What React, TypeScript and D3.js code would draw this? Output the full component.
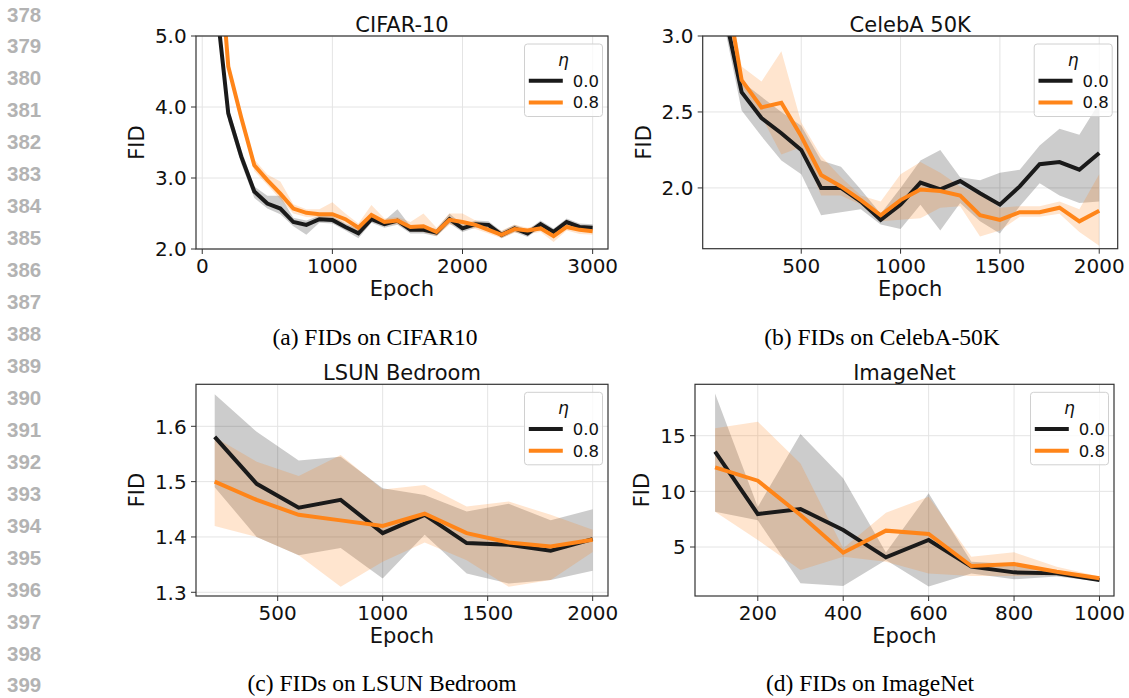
import React from "react";
import * as d3 from "d3";

// ---------- line numbers (left margin) ----------
const lineNumbers = [378, 379, 380, 381, 382, 383, 384, 385, 386, 387, 388, 389, 390, 391, 392, 393, 394, 395, 396, 397, 398, 399];

// ---------- legend ----------
const legendTitle = "η";
const legendLabels = ["0.0", "0.8"];

// ---------- CIFAR-10 ----------
const cifarEpochs = [100, 200, 300, 400, 500, 600, 700, 800, 900, 1000, 1100, 1200, 1300, 1400, 1500, 1600, 1700, 1800, 1900, 2000, 2100, 2200, 2300, 2400, 2500, 2600, 2700, 2800, 2900, 3000];
const cifarEta0 = [5.6, 3.91, 3.3, 2.81, 2.64, 2.57, 2.38, 2.34, 2.42, 2.41, 2.31, 2.22, 2.42, 2.35, 2.4, 2.27, 2.27, 2.23, 2.42, 2.29, 2.35, 2.34, 2.2, 2.29, 2.22, 2.35, 2.24, 2.38, 2.31, 2.3];
const cifarEta0Lo = [5.5, 3.8, 3.2, 2.72, 2.57, 2.49, 2.32, 2.2, 2.37, 2.36, 2.26, 2.15, 2.37, 2.3, 2.34, 2.22, 2.22, 2.18, 2.36, 2.24, 2.3, 2.29, 2.15, 2.24, 2.17, 2.3, 2.19, 2.33, 2.26, 2.25];
const cifarEta0Hi = [5.7, 4.0, 3.4, 2.88, 2.75, 2.75, 2.44, 2.4, 2.47, 2.46, 2.36, 2.28, 2.48, 2.4, 2.56, 2.32, 2.32, 2.28, 2.5, 2.34, 2.4, 2.39, 2.25, 2.34, 2.27, 2.4, 2.29, 2.43, 2.36, 2.35];
const cifarEta8 = [6.9, 4.57, 3.85, 3.18, 2.97, 2.78, 2.57, 2.51, 2.49, 2.49, 2.42, 2.3, 2.48, 2.38, 2.4, 2.31, 2.32, 2.24, 2.41, 2.38, 2.34, 2.27, 2.2, 2.28, 2.26, 2.29, 2.18, 2.31, 2.27, 2.25];
const cifarEta8Lo = [6.8, 4.5, 3.78, 3.1, 2.9, 2.7, 2.5, 2.45, 2.44, 2.4, 2.36, 2.24, 2.4, 2.33, 2.35, 2.25, 2.24, 2.18, 2.34, 2.32, 2.28, 2.22, 2.15, 2.23, 2.21, 2.24, 2.1, 2.26, 2.21, 2.2];
const cifarEta8Hi = [7.0, 4.65, 3.92, 3.26, 3.05, 2.95, 2.63, 2.56, 2.56, 2.66, 2.5, 2.36, 2.62, 2.43, 2.45, 2.38, 2.5, 2.3, 2.5, 2.5, 2.4, 2.33, 2.26, 2.34, 2.3, 2.34, 2.26, 2.36, 2.32, 2.3];
const cifarXTicks = [0, 1000, 2000, 3000];
const cifarYTicks = [2.0, 3.0, 4.0, 5.0];

// ---------- CelebA 50K ----------
const celebaEpochs = [100, 200, 300, 400, 500, 600, 700, 800, 900, 1000, 1100, 1200, 1300, 1400, 1500, 1600, 1700, 1800, 1900, 2000];
const celebaEta0 = [3.24, 2.63, 2.46, 2.36, 2.25, 2.0, 2.0, 1.91, 1.79, 1.89, 2.035, 1.99, 2.045, 1.965, 1.89, 2.01, 2.156, 2.17, 2.12, 2.23];
const celebaEta0Lo = [3.15, 2.51, 2.34, 2.18, 2.09, 1.82, 1.84, 1.86, 1.76, 1.73, 1.89, 1.72, 1.9, 1.78, 1.7, 1.88, 2.03, 1.95, 1.9, 1.91];
const celebaEta0Hi = [3.35, 2.7, 2.6, 2.5, 2.41, 2.18, 2.14, 1.99, 1.83, 2.0, 2.18, 2.25, 2.07, 2.05, 2.1, 2.12, 2.28, 2.39, 2.35, 2.56];
const celebaEta8 = [3.47, 2.71, 2.53, 2.56, 2.34, 2.085, 2.01, 1.92, 1.82, 1.92, 1.99, 1.98, 1.95, 1.82, 1.79, 1.84, 1.84, 1.87, 1.78, 1.85];
const celebaEta8Lo = [3.4, 2.67, 2.47, 2.22, 2.27, 1.95, 1.95, 1.89, 1.78, 1.79, 1.8, 1.87, 1.88, 1.68, 1.72, 1.81, 1.81, 1.83, 1.71, 1.62];
const celebaEta8Hi = [3.55, 2.8, 2.7, 2.9, 2.43, 2.21, 2.07, 1.95, 1.91, 2.09, 2.17, 2.1, 2.01, 1.96, 1.87, 1.88, 1.88, 1.91, 1.86, 2.09];
const celebaXTicks = [500, 1000, 1500, 2000];
const celebaYTicks = [2.0, 2.5, 3.0];

// ---------- LSUN Bedroom ----------
const lsunEpochs = [200, 400, 600, 800, 1000, 1200, 1400, 1600, 1800, 2000];
const lsunEta0 = [1.581, 1.496, 1.453, 1.467, 1.407, 1.44, 1.389, 1.386, 1.375, 1.396];
const lsunEta0Lo = [1.49, 1.4, 1.367, 1.38, 1.325, 1.404, 1.334, 1.316, 1.322, 1.339];
const lsunEta0Hi = [1.658, 1.59, 1.538, 1.545, 1.488, 1.476, 1.446, 1.46, 1.43, 1.45];
const lsunEta8 = [1.5, 1.467, 1.44, 1.43, 1.42, 1.442, 1.407, 1.39, 1.383, 1.395];
const lsunEta8Lo = [1.42, 1.4, 1.367, 1.31, 1.355, 1.39, 1.358, 1.31, 1.322, 1.373];
const lsunEta8Hi = [1.58, 1.536, 1.51, 1.548, 1.486, 1.494, 1.455, 1.464, 1.44, 1.413];
const lsunXTicks = [500, 1000, 1500, 2000];
const lsunYTicks = [1.3, 1.4, 1.5, 1.6];

// ---------- ImageNet ----------
const imagenetEpochs = [100, 200, 300, 400, 500, 600, 700, 800, 900, 1000];
const imagenetEta0 = [13.56, 7.96, 8.41, 6.53, 4.07, 5.63, 3.23, 2.72, 2.63, 2.04];
const imagenetEta0Lo = [8.17, 7.4, 1.74, 1.5, 3.83, 1.44, 2.63, 2.1, 2.34, 1.89];
const imagenetEta0Hi = [18.8, 8.6, 15.15, 11.17, 4.5, 9.82, 3.68, 3.47, 2.93, 2.19];
const imagenetEta8 = [12.16, 10.96, 7.87, 4.49, 6.47, 6.17, 3.29, 3.47, 2.78, 2.19];
const imagenetEta8Lo = [8.17, 5.63, 2.93, 4.13, 3.68, 2.63, 2.39, 2.39, 2.48, 1.98];
const imagenetEta8Hi = [15.66, 16.26, 12.5, 4.88, 8.08, 9.52, 4.13, 4.52, 3.23, 2.34];
const imagenetXTicks = [200, 400, 600, 800, 1000];
const imagenetYTicks = [5, 10, 15];

// ---------- styling ----------
const BLACK = "#1a1a1a";
const ORANGE = "#ff8519";
const SANS = "'DejaVu Sans', sans-serif";

type Series = { mean: number[]; lo: number[]; hi: number[] };
type PanelSpec = {
  id: string;
  title: string;
  caption: string;
  captionX: number;
  captionY: number;
  epochs: number[];
  s0: Series;
  s8: Series;
  xTicks: number[];
  yTicks: number[];
  yDecimals: number;
  xDomain: [number, number];
  yDomain: [number, number];
  left: number;
  right: number;
  top: number;
  bottom: number;
};

const panels: PanelSpec[] = [
  {
    id: "cifar", title: "CIFAR-10", caption: "(a) FIDs on CIFAR10", captionX: 375, captionY: 345,
    epochs: cifarEpochs,
    s0: { mean: cifarEta0, lo: cifarEta0Lo, hi: cifarEta0Hi },
    s8: { mean: cifarEta8, lo: cifarEta8Lo, hi: cifarEta8Hi },
    xTicks: cifarXTicks, yTicks: cifarYTicks, yDecimals: 1,
    xDomain: [-48, 3118], yDomain: [2, 5],
    left: 196, right: 608, top: 36, bottom: 249,
  },
  {
    id: "celeba", title: "CelebA 50K", caption: "(b) FIDs on CelebA-50K", captionX: 882, captionY: 345,
    epochs: celebaEpochs,
    s0: { mean: celebaEta0, lo: celebaEta0Lo, hi: celebaEta0Hi },
    s8: { mean: celebaEta8, lo: celebaEta8Lo, hi: celebaEta8Hi },
    xTicks: celebaXTicks, yTicks: celebaYTicks, yDecimals: 1,
    xDomain: [4, 2093], yDomain: [1.6, 3.0],
    left: 702.7, right: 1117.7, top: 36, bottom: 248.7,
  },
  {
    id: "lsun", title: "LSUN Bedroom", caption: "(c) FIDs on LSUN Bedroom", captionX: 382, captionY: 691,
    epochs: lsunEpochs,
    s0: { mean: lsunEta0, lo: lsunEta0Lo, hi: lsunEta0Hi },
    s8: { mean: lsunEta8, lo: lsunEta8Lo, hi: lsunEta8Hi },
    xTicks: lsunXTicks, yTicks: lsunYTicks, yDecimals: 1,
    xDomain: [111, 2073], yDomain: [1.2933, 1.6759],
    left: 196, right: 608, top: 384.3, bottom: 596,
  },
  {
    id: "imagenet", title: "ImageNet", caption: "(d) FIDs on ImageNet", captionX: 870, captionY: 691,
    epochs: imagenetEpochs,
    s0: { mean: imagenetEta0, lo: imagenetEta0Lo, hi: imagenetEta0Hi },
    s8: { mean: imagenetEta8, lo: imagenetEta8Lo, hi: imagenetEta8Hi },
    xTicks: imagenetXTicks, yTicks: imagenetYTicks, yDecimals: 0,
    xDomain: [53, 1034], yDomain: [0.597, 19.62],
    left: 695, right: 1114, top: 384.3, bottom: 596,
  },
];

function textWidth(s: string, size: number) {
  let w = 0;
  for (const c of s) w += c === "." ? 0.318 : 0.636;
  return w * size;
}

function Panel({ p }: { p: PanelSpec }) {
  const x = d3.scaleLinear().domain(p.xDomain).range([p.left, p.right]);
  const y = d3.scaleLinear().domain(p.yDomain).range([p.bottom, p.top]);
  const areaFor = (s: Series) =>
    d3.area<number>()
      .x((_, i) => x(p.epochs[i]))
      .y0((_, i) => y(s.lo[i]))
      .y1((_, i) => y(s.hi[i]))(s.mean) || "";
  const lineFor = (s: Series) =>
    d3.line<number>()
      .x((_, i) => x(p.epochs[i]))
      .y((d) => y(d))(s.mean) || "";
  const fmt = d3.format(`.${p.yDecimals}f`);
  const tickSize = 20;
  const maxW = Math.max(...p.yTicks.map((t) => textWidth(fmt(t), tickSize)));
  const tickLabelRight = p.left - 9.3;
  const ylabelX = tickLabelRight - maxW - 18.5;
  const cy = (p.top + p.bottom) / 2;
  const cx = (p.left + p.right) / 2;
  const clipId = `clip-${p.id}`;

  // legend geometry
  const lw = 78, lh = 72.5;
  const lx = p.right - 5.5 - lw;
  const ly = p.top + 8;
  const rows = [
    { color: BLACK, label: legendLabels[0], cy: ly + 36.7 },
    { color: ORANGE, label: legendLabels[1], cy: ly + 58.4 },
  ];

  return (
    <g>
      <defs>
        <clipPath id={clipId}>
          <rect x={p.left} y={p.top} width={p.right - p.left} height={p.bottom - p.top} />
        </clipPath>
      </defs>
      {/* grid */}
      <g stroke="#e4e4e4" strokeWidth={1}>
        {p.xTicks.map((t) => (
          <line key={`gx${t}`} x1={x(t)} x2={x(t)} y1={p.top} y2={p.bottom} />
        ))}
        {p.yTicks.map((t) => (
          <line key={`gy${t}`} x1={p.left} x2={p.right} y1={y(t)} y2={y(t)} />
        ))}
      </g>
      {/* data */}
      <g clipPath={`url(#${clipId})`}>
        <path d={areaFor(p.s0)} fill="#000000" fillOpacity={0.2} stroke="none" />
        <path d={areaFor(p.s8)} fill="#ff7f0e" fillOpacity={0.2} stroke="none" />
        <path d={lineFor(p.s0)} fill="none" stroke={BLACK} strokeWidth={4} strokeLinejoin="miter" strokeLinecap="butt" />
        <path d={lineFor(p.s8)} fill="none" stroke={ORANGE} strokeWidth={4} strokeLinejoin="miter" strokeLinecap="butt" />
      </g>
      {/* spines */}
      <rect x={p.left} y={p.top} width={p.right - p.left} height={p.bottom - p.top} fill="none" stroke="#333" strokeWidth={1.2} />
      {/* ticks */}
      <g stroke="#333" strokeWidth={1}>
        {p.xTicks.map((t) => (
          <line key={`tx${t}`} x1={x(t)} x2={x(t)} y1={p.bottom} y2={p.bottom + 5} />
        ))}
        {p.yTicks.map((t) => (
          <line key={`ty${t}`} x1={p.left - 5} x2={p.left} y1={y(t)} y2={y(t)} />
        ))}
      </g>
      <g fontFamily={SANS} fontSize={tickSize} fill="#111">
        {p.xTicks.map((t) => (
          <text key={`lx${t}`} x={x(t)} y={p.bottom + 24} textAnchor="middle">{String(t)}</text>
        ))}
        {p.yTicks.map((t) => (
          <text key={`ly${t}`} x={tickLabelRight} y={y(t) + 7.3} textAnchor="end">{fmt(t)}</text>
        ))}
      </g>
      {/* labels */}
      <text x={cx} y={p.top - 4.5} textAnchor="middle" fontFamily={SANS} fontSize={21} fill="#111">{p.title}</text>
      <text x={cx} y={p.bottom + 47} textAnchor="middle" fontFamily={SANS} fontSize={21} fill="#111">Epoch</text>
      <text transform={`translate(${ylabelX + 7.6},${cy}) rotate(-90)`} textAnchor="middle" fontFamily={SANS} fontSize={21} fill="#111">FID</text>
      {/* legend */}
      <rect x={lx} y={ly} width={lw} height={lh} rx={3} ry={3} fill="#ffffff" fillOpacity={0.8} stroke="#d0d0d0" strokeWidth={1} />
      <text x={lx + lw / 2} y={ly + 21.5} textAnchor="middle" fontFamily={SANS} fontStyle="italic" fontSize={17} fill="#111">{legendTitle}</text>
      {rows.map((r) => (
        <g key={r.label}>
          <line x1={lx + 4.3} x2={lx + 38.3} y1={r.cy} y2={r.cy} stroke={r.color} strokeWidth={4} />
          <text x={lx + 48.3} y={r.cy + 6} fontFamily={SANS} fontSize={16.5} fill="#111">{r.label}</text>
        </g>
      ))}
      {/* caption */}
      <text x={p.captionX} y={p.captionY} textAnchor="middle" fontFamily="'Liberation Serif', 'Times New Roman', serif" fontSize={23.5} fill="#000">{p.caption}</text>
    </g>
  );
}

export default function App() {
  return (
    <svg width={1129} height={698} style={{ position: "absolute", left: 0, top: 0, background: "#fff" }}>
      <rect x={0} y={0} width={1129} height={698} fill="#fff" />
      <g fontFamily="'Liberation Sans', Arial, sans-serif" fontWeight="bold" fontSize={20.5} fill="#b3b3b3">
        {lineNumbers.map((n, i) => (
          <text key={n} x={7} y={21.5 + i * 31.95}>{String(n)}</text>
        ))}
      </g>
      {panels.map((p) => (
        <Panel key={p.id} p={p} />
      ))}
    </svg>
  );
}
